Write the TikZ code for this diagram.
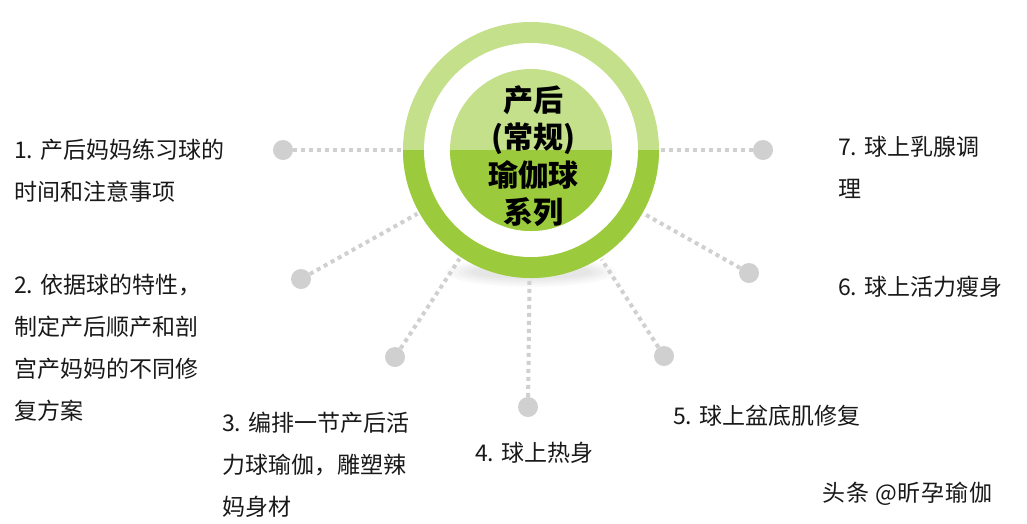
\documentclass[tikz,border=0pt]{standalone}
\usepackage{fontspec}
\newfontfamily\cjk{Noto Sans CJK SC}
\newfontfamily\cjkwm{Noto Sans CJK SC}[LetterSpace=4]
\definecolor{lightg}{HTML}{C5E08B}
\definecolor{darkg}{HTML}{9BCB3C}
\definecolor{dotc}{HTML}{D0D0D0}
\begin{document}
\begin{tikzpicture}[x=1pt,y=-1pt,
  dotn/.style={circle,fill=dotc,minimum size=20pt,inner sep=0pt},
  conn/.style={draw=dotc,line width=4pt,dash pattern=on 4pt off 4pt},
  lbl/.style={anchor=west,inner sep=0pt,align=left,font=\cjk\fontsize{23}{42}\selectfont,text=black!90}]
\useasboundingbox (0,0) rectangle (1027,523);
\fill[white] (0,0) rectangle (1027,523);
% shadow
\foreach \i in {1,...,5}
  \fill[black,opacity=0.018] (531,272) ellipse ({55+6*\i} and {5+2*\i});
% ring
\node[circle,minimum size=260pt,inner sep=0pt] (ring) at (531,150) {};
\fill[lightg] (531,150) circle (128);
\begin{scope}
  \clip (400,150) rectangle (665,285);
  \fill[darkg] (531,150) circle (128);
\end{scope}
\fill[white] (531,150) circle (107);
\fill[lightg] (531,150) circle (81);
\begin{scope}
  \clip (440,150) rectangle (620,240);
  \fill[darkg] (531,150) circle (81);
\end{scope}
\node[inner sep=0pt,align=center,font=\cjk\bfseries\fontsize{30}{37.5}\selectfont] (title) at (533,156) {产后\\(常规)\\瑜伽球\\系列};
% dots
\node[dotn] (d1) at (283,150) {};
\node[dotn] (d2) at (301,279) {};
\node[dotn] (d3) at (395,357) {};
\node[dotn] (d4) at (528,407) {};
\node[dotn] (d5) at (664,356) {};
\node[dotn] (d6) at (749,273) {};
\node[dotn] (d7) at (763,150) {};
\foreach \d in {d1,d2,d3,d4,d5,d6,d7}
  \draw[conn] (\d) -- (ring);
% labels
\node[lbl] (l1) at (14,171) {1. 产后妈妈练习球的\\时间和注意事项};
\node[lbl] (l2) at (14,348) {2. 依据球的特性，\\制定产后顺产和剖\\宫产妈妈的不同修\\复方案};
\node[lbl] (l3) at (222,465) {3. 编排一节产后活\\力球瑜伽，雕塑辣\\妈身材};
\node[lbl] (l4) at (475,453) {4. 球上热身};
\node[lbl] (l5) at (673,416) {5. 球上盆底肌修复};
\node[lbl] (l6) at (838,287) {6. 球上活力瘦身};
\node[lbl] (l7) at (838,167) {7. 球上乳腺调\\理};
\node[lbl,font=\cjkwm\fontsize{23}{26}\selectfont] (wm) at (822,494) {头条 @昕孕瑜伽};
\end{tikzpicture}
\end{document}
